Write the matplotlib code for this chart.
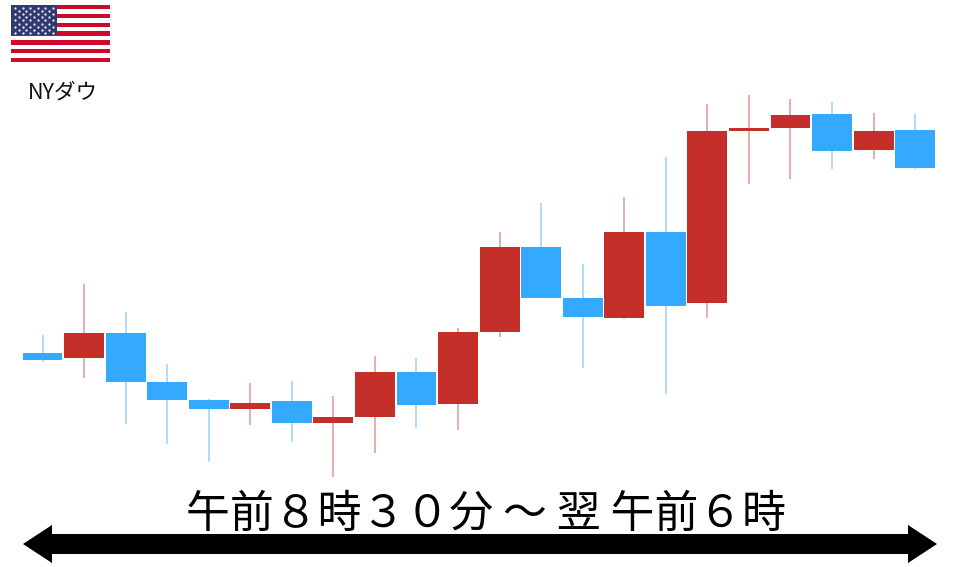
"""
NY Dow candlestick chart, one session from 8:30 to 6:00 next morning
"""

import matplotlib
matplotlib.use('Agg')
import matplotlib.pyplot as plt
from matplotlib.patches import FancyArrow, Rectangle

plt.rcParams['font.family'] = ['Noto Sans CJK JP', 'DejaVu Sans']

RED = '#C42F2A'
BLUE = '#33A9FF'

# price levels (no axis is shown, so the scale is arbitrary)
body_high = [214.3, 233.7, 233.7, 185.3, 166.7, 164.3, 166.0, 150.3, 194.7, 194.7, 235.3,
             319.7, 319.7, 269.0, 335.3, 335.3, 436.3, 438.7, 451.7, 453.3, 436.3, 436.7]
body_low = [207.0, 209.0, 184.7, 166.7, 158.0, 158.0, 144.3, 144.3, 149.7, 162.0, 162.7,
            235.3, 269.3, 250.0, 249.3, 261.0, 264.0, 436.3, 439.3, 416.0, 417.0, 399.0]
wick_high = [232.0, 282.7, 254.7, 203.0, 168.3, 184.0, 186.3, 171.3, 211.3, 209.0, 239.3,
             335.3, 364.0, 303.0, 370.0, 410.0, 463.0, 472.3, 468.0, 465.0, 454.0, 453.3]
wick_low = [205.3, 189.3, 143.0, 123.0, 104.7, 142.0, 125.0, 89.7, 114.0, 139.3, 137.0,
            230.3, 269.3, 198.7, 248.0, 173.3, 249.3, 382.7, 388.0, 398.0, 408.0, 398.3]
is_red = [False, True, False, False, False, True, False, True, True, False, True,
          True, False, False, True, False, True, True, True, False, True, False]

title = '午前８時３０分 ～ 翌 午前６時'
label = 'NYダウ'

fig = plt.figure(figsize=(9.6, 5.67), dpi=100)

# candles
ax = fig.add_axes([0, 0, 1, 1])
ax.set_xlim(-1.023, 22.08)
ax.set_ylim(0, 567)
ax.axis('off')
for i in range(len(body_high)):
    color = RED if is_red[i] else BLUE
    ax.vlines(i, wick_low[i], wick_high[i], color=color, linewidth=1.1, alpha=0.5, zorder=1)
    ax.bar(i, body_high[i] - body_low[i], bottom=body_low[i], width=0.96, color=color,
           linewidth=0, zorder=2)

# overlay in pixels for the flag, caption and arrow
over = fig.add_axes([0, 0, 1, 1])
over.set_xlim(0, 960)
over.set_ylim(567, 0)
over.axis('off')
over.patch.set_alpha(0)

# flag
stripe = (62.3 - 5) / 13
for s in range(13):
    c = '#CE0A2C' if s % 2 == 0 else 'white'
    over.add_patch(Rectangle((11.3, 5 + s * stripe), 98.7, stripe, color=c, linewidth=0))
over.add_patch(Rectangle((11.3, 5), 45.4, 30.4, color='#2F3A70', linewidth=0))
star_x = []
star_y = []
for r in range(9):
    n = 6 if r % 2 == 0 else 5
    for k in range(n):
        star_x.append(15 + (k + (0 if n == 6 else 0.5)) * 7.6)
        star_y.append(8 + r * 3.1)
over.scatter(star_x, star_y, s=2.8, color='#E8EAF2', linewidths=0)

over.text(62.5, 92.5, label, ha='center', va='center', fontsize=15.5, color='#111111')
over.text(486, 514, title, ha='center', va='center', fontsize=31.6, color='black')

# double headed arrow
mid = 480
over.add_patch(FancyArrow(mid, 544, 937 - mid, 0, width=20, head_width=38, head_length=29,
                          length_includes_head=True, color='black', linewidth=0))
over.add_patch(FancyArrow(mid, 544, 23 - mid, 0, width=20, head_width=38, head_length=29,
                          length_includes_head=True, color='black', linewidth=0))

fig.savefig('out.png', dpi=100)
